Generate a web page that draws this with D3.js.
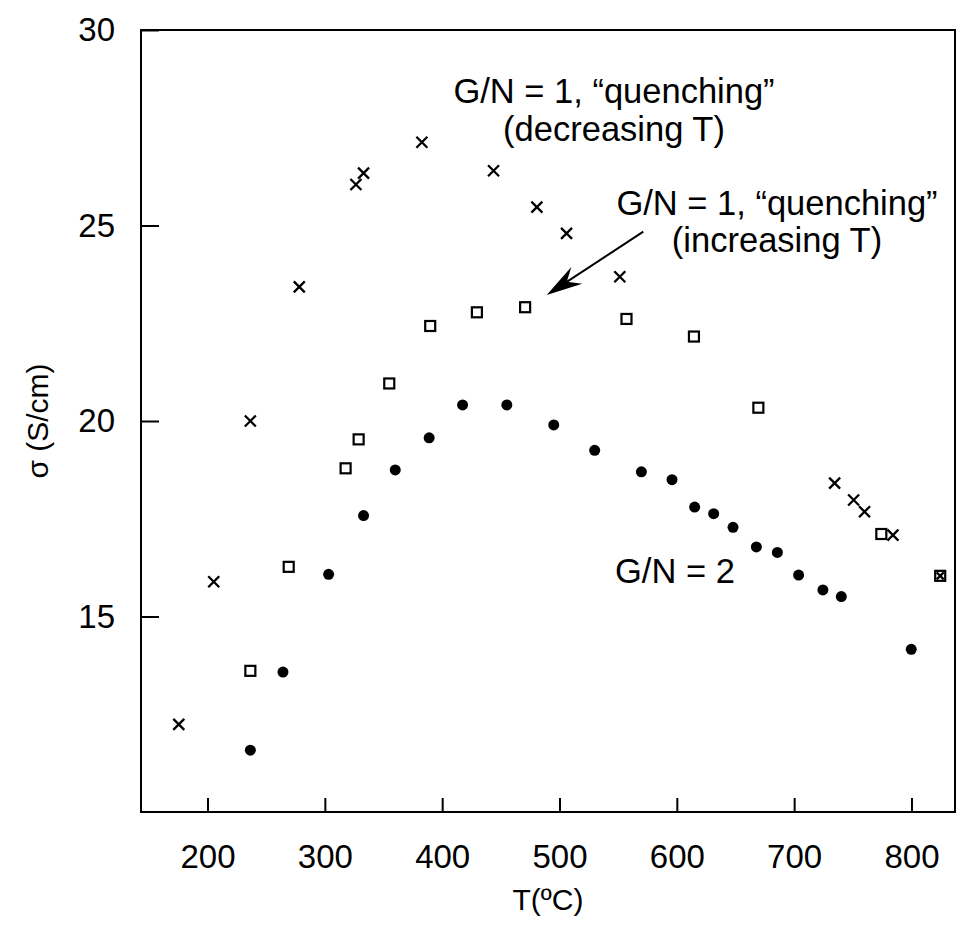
<!DOCTYPE html>
<html>
<head>
<meta charset="utf-8">
<script src="https://cdn.jsdelivr.net/npm/d3@7"></script>
<style>
  html, body { margin: 0; padding: 0; background: #fff; }
  svg { display: block; }
  text { font-family: "Liberation Sans", Arial, sans-serif; fill: #000; }
</style>
</head>
<body>
<svg id="chart" width="957" height="929"></svg>
<script>
// ---- data ----
const xTicks = [200, 300, 400, 500, 600, 700, 800];
const yTicks = [15, 20, 25, 30];

// G/N = 1, "quenching" (decreasing T)  -> crosses
const decT = [175.5, 205.3, 236.5, 278.2, 326.5, 333, 382.7, 443.8, 480.7, 506, 551.4, 734.5, 750.7, 760, 784.2, 824.5];
const decS = [12.24, 15.89, 20.0, 23.43, 26.05, 26.34, 27.13, 26.4, 25.47, 24.8, 23.69, 18.41, 17.98, 17.68, 17.08, 16.04];

// G/N = 1, "quenching" (increasing T) -> open squares
const incT = [236.5, 269.2, 317.7, 328.8, 354.9, 389.8, 429.6, 470.7, 557.1, 614.6, 669.5, 774.3, 824.5];
const incS = [13.61, 16.27, 18.79, 19.53, 20.96, 22.43, 22.78, 22.91, 22.61, 22.16, 20.34, 17.11, 16.04];

// G/N = 2 -> filled circles
const gn2T = [236.5, 264.3, 303.2, 333, 360, 388.9, 417.4, 455.1, 495.1, 530, 569.8, 595.9, 615.2, 631.4, 647.9, 667.8, 685.7, 703.8, 724.5, 740.2, 799.8];
const gn2S = [11.58, 13.58, 16.08, 17.58, 18.75, 19.57, 20.41, 20.41, 19.9, 19.25, 18.7, 18.5, 17.8, 17.63, 17.28, 16.78, 16.64, 16.06, 15.68, 15.51, 14.16];

const xLabel = "T(ºC)";
const yLabel = "σ (S/cm)";
const ann1 = ["G/N = 1, “quenching”", "(decreasing T)"];
const ann2 = ["G/N = 1, “quenching”", "(increasing T)"];
const ann3 = "G/N = 2";

// ---- layout ----
const svg = d3.select("#chart");
const pL = 141, pR = 955, pT = 30, pB = 812;
const x = d3.scaleLinear().domain([143.3, 837.1]).range([pL, pR]);
const y = d3.scaleLinear().domain([10, 30]).range([pB, pT]);

// frame
svg.append("rect")
  .attr("x", pL).attr("y", pT)
  .attr("width", pR - pL).attr("height", pB - pT)
  .attr("fill", "none").attr("stroke", "#000").attr("stroke-width", 2);

// x axis (ticks inward)
const xAxis = d3.axisBottom(x).tickValues(xTicks).tickSizeInner(-14).tickSizeOuter(0).tickPadding(33);
const gx = svg.append("g").attr("transform", `translate(0,${pB})`).call(xAxis);
gx.select(".domain").remove();
gx.selectAll(".tick line").attr("stroke", "#000").attr("stroke-width", 2);
gx.selectAll(".tick text").attr("font-size", 33).attr("font-family", "Liberation Sans, Arial, sans-serif").attr("fill", "#000");

// y axis (ticks inward)
const yAxis = d3.axisLeft(y).tickValues(yTicks).tickSizeInner(-18).tickSizeOuter(0).tickPadding(26);
const gy = svg.append("g").attr("transform", `translate(${pL},0)`).call(yAxis);
gy.select(".domain").remove();
gy.selectAll(".tick line").attr("stroke", "#000").attr("stroke-width", 2);
gy.selectAll(".tick text").attr("font-size", 33).attr("font-family", "Liberation Sans, Arial, sans-serif").attr("fill", "#000");

// axis titles
svg.append("text").attr("x", (pL + pR) / 2).attr("y", 910)
  .attr("text-anchor", "middle").attr("font-size", 30).text(xLabel);
svg.append("text")
  .attr("transform", `translate(48,${(pT + pB) / 2}) rotate(-90)`)
  .attr("text-anchor", "middle").attr("font-size", 30).text(yLabel);

// markers
const g = svg.append("g");
const crossPath = (s) => `M${-s},${-s}L${s},${s}M${-s},${s}L${s},${-s}`;

g.selectAll("circle.gn2").data(d3.zip(gn2T, gn2S)).join("circle")
  .attr("class", "gn2")
  .attr("cx", d => x(d[0])).attr("cy", d => y(d[1])).attr("r", 5.5)
  .attr("fill", "#000");

g.selectAll("rect.inc").data(d3.zip(incT, incS)).join("rect")
  .attr("class", "inc")
  .attr("x", d => x(d[0]) - 5).attr("y", d => y(d[1]) - 5)
  .attr("width", 10).attr("height", 10)
  .attr("fill", "#fff").attr("stroke", "#000").attr("stroke-width", 2.2);

g.selectAll("path.dec").data(d3.zip(decT, decS)).join("path")
  .attr("class", "dec")
  .attr("transform", d => `translate(${x(d[0])},${y(d[1])})`)
  .attr("d", (d, i) => crossPath(i === decT.length - 1 ? 3.5 : 5.5))
  .attr("fill", "none").attr("stroke", "#000").attr("stroke-width", 2.3);

// annotations
const ann = svg.append("g").attr("font-size", 34.5).attr("text-anchor", "middle");
ann.append("text").attr("x", 614).attr("y", 103).text(ann1[0]);
ann.append("text").attr("x", 614).attr("y", 141).text(ann1[1]);
ann.append("text").attr("x", 777).attr("y", 215).text(ann2[0]);
ann.append("text").attr("x", 777).attr("y", 252).text(ann2[1]);
svg.append("text").attr("x", 615).attr("y", 583).attr("font-size", 34.5).text(ann3);

// arrow
const x0 = 643.3, y0 = 231.7, x1 = 546.7, y1 = 295;
const ang = Math.atan2(y1 - y0, x1 - x0);
const L = 36, W = 10, N = 24;
const ux = Math.cos(ang), uy = Math.sin(ang), nx = -uy, ny = ux;
svg.append("line")
  .attr("x1", x0).attr("y1", y0)
  .attr("x2", x1 - ux * N).attr("y2", y1 - uy * N)
  .attr("stroke", "#000").attr("stroke-width", 2);
svg.append("path")
  .attr("d", `M${x1},${y1}L${x1 - ux * L + nx * W},${y1 - uy * L + ny * W}L${x1 - ux * N},${y1 - uy * N}L${x1 - ux * L - nx * W},${y1 - uy * L - ny * W}Z`)
  .attr("fill", "#000");
</script>
</body>
</html>
